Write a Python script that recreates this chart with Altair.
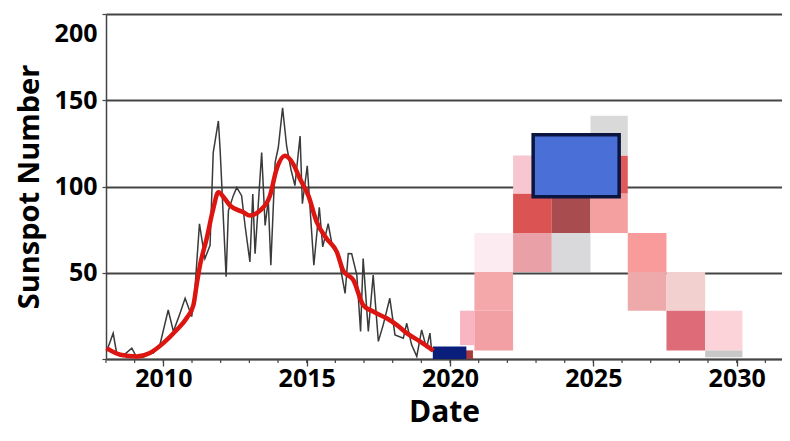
import altair as alt
import pandas as pd

# Monthly sunspot number (thin black line)
black_year = [2008.02, 2008.25, 2008.37, 2008.6, 2008.9, 2009.07, 2009.3, 2009.5, 2009.65, 2009.88,
              2010.17, 2010.35, 2010.55, 2010.76, 2010.99, 2011.1, 2011.26, 2011.45, 2011.63, 2011.74,
              2011.92, 2011.98, 2012.19, 2012.27, 2012.44, 2012.56, 2012.73, 2012.85, 2013.02, 2013.12,
              2013.2, 2013.43, 2013.55, 2013.66, 2013.75, 2013.9, 2014.01, 2014.16, 2014.3, 2014.45,
              2014.59, 2014.77, 2014.85, 2015.02, 2015.25, 2015.44, 2015.56, 2015.75, 2015.9, 2016.1,
              2016.34, 2016.45, 2016.57, 2016.75, 2016.88, 2016.97, 2017.15, 2017.32, 2017.5, 2017.67,
              2017.9, 2018.08, 2018.37, 2018.49, 2018.66, 2018.84, 2019.01, 2019.18, 2019.3, 2019.36]
black_value = [4.4, 15, 3.5, 2, 6.3, 1, 1, 3, 3.5, 8.2,
               28.4, 16, 25, 35.2, 24.6, 40, 78.4, 58.2, 65.9, 119.7,
               138, 121.6, 47.7, 86, 94.7, 99.5, 94.7, 77.4, 56.3, 95.7,
               61.1, 119.7, 77.4, 92, 54.4, 114, 122.6, 145.6, 123.5, 110,
               100.5, 129.3, 90, 112, 54.4, 88, 65, 78.4, 65, 60,
               38, 61.1, 61, 48.6, 16, 58.2, 16, 48.6, 10.2, 19.8,
               35.2, 14, 12, 20.7, 8.2, 1.5, 16.9, 6.3, 15, 4.4]

# Smoothed sunspot number (thick red line)
red_year = [2008.02, 2008.5, 2009.07, 2009.53, 2010.0, 2010.47, 2010.81, 2011.05, 2011.16, 2011.28,
            2011.51, 2011.74, 2011.92, 2012.15, 2012.33, 2012.79, 2013.02, 2013.37, 2013.72, 2013.95,
            2014.24, 2014.53, 2014.77, 2015.06, 2015.35, 2015.7, 2016.05, 2016.28, 2016.63, 2016.97,
            2017.32, 2017.79, 2018.14, 2018.49, 2018.95, 2019.42]
red_value = [6.3, 2.5, 1.5, 3.5, 9.2, 16.9, 23.6, 31.3, 42.8, 54.4,
             69.7, 87, 96.7, 92.8, 88.9, 85.1, 83.2, 86, 94.7, 110,
             117.8, 113, 104.3, 94.7, 79.4, 69.7, 62.1, 51, 45.7, 31.3,
             27.5, 23.6, 19.8, 15, 10.2, 4.8]

# Prediction cells (year range x sunspot range) and their shades
cell_x0 = [2020.35, 2020.85, 2020.85, 2020.85, 2022.2, 2023.55, 2026.2, 2022.2, 2023.55, 2024.9,
           2022.2, 2024.9, 2024.9, 2026.2, 2027.55, 2027.55, 2028.9, 2028.9, 2020.55]
cell_x1 = [2020.85, 2022.2, 2022.2, 2022.2, 2023.55, 2024.9, 2027.55, 2023.55, 2024.9, 2026.2,
           2023.55, 2026.2, 2026.2, 2027.55, 2028.9, 2028.9, 2030.2, 2030.2, 2020.8]
cell_y0 = [8, 5, 28, 50.5, 50.5, 50.5, 50.5, 73, 73, 73,
           96, 96, 118, 28, 28, 5, 5, 1, 0]
cell_y1 = [28, 28, 50.5, 73, 73, 73, 73, 96, 96, 96,
           118, 118, 141, 50.5, 50.5, 28, 28, 5, 5]
cell_color = ["#f7b6c2", "#f2a0a4", "#f5a8aa", "#fcebf1", "#e9a0a6", "#d9d9db", "#f99a9b",
              "#dc5354", "#a84c50", "#f5a0a0", "#f7c6cf", "#e05a5a", "#d9d9d9", "#eeaaaa",
              "#f2d0d0", "#dd6c78", "#fbd3d9", "#c8c8c8", "#a83a3a"]

# Predicted maximum box and observed minimum box
box_x0 = [2022.9]
box_x1 = [2025.9]
box_y0 = [94]
box_y1 = [130]
min_x0 = [2019.4]
min_x1 = [2020.57]
min_y0 = [0]
min_y1 = [7.3]

# Axis ticks
x_label_years = [2010, 2015, 2020, 2025, 2030]
x_minor_years = list(range(2008, 2032))
y_tick_values = [0, 50, 100, 150, 200]

FONT = "Open Sans"

black_df = pd.DataFrame({"year": black_year, "value": black_value})
red_df = pd.DataFrame({"year": red_year, "value": red_value})
cells_df = pd.DataFrame({"x0": cell_x0, "x1": cell_x1, "y0": cell_y0, "y1": cell_y1, "c": cell_color})
box_df = pd.DataFrame({"x0": box_x0, "x1": box_x1, "y0": box_y0, "y1": box_y1})
min_df = pd.DataFrame({"x0": min_x0, "x1": min_x1, "y0": min_y0, "y1": min_y1})
minor_df = pd.DataFrame({"year": x_minor_years})

PLOT_H = 345

xscale = alt.Scale(domain=[2008, 2031.58], nice=False, zero=False)
yscale = alt.Scale(domain=[0, 200], nice=False)

xaxis = alt.Axis(
    title="Date",
    values=x_label_years,
    format="d",
    labelOverlap=False,
    tickSize=7,
    labelPadding=0,
    labelFont=FONT, labelFontSize=25, labelFontWeight="bold", labelColor="#000000",
    titleFont=FONT, titleFontSize=30, titleFontWeight="bold", titleColor="#000000",
    titlePadding=6,
    domainColor="#444444", domainWidth=1.5, tickColor="#444444", tickWidth=1.3,
    grid=False,
)
yaxis = alt.Axis(
    title="Sunspot Number",
    values=y_tick_values,
    labelExpr="datum.value == 0 ? '' : datum.label",
    labelOverlap=False,
    labelOffset={"condition": {"test": "datum.value == 200", "value": 19}, "value": 0},
    tickSize=4, labelPadding=5,
    labelFont=FONT, labelFontSize=25, labelFontWeight="bold", labelColor="#000000",
    titleFont=FONT, titleFontSize=29, titleFontWeight="bold", titleColor="#000000",
    titlePadding=10,
    domainColor="#444444", domainWidth=1.5, tickColor="#444444", tickWidth=1.2,
    grid=True, gridColor="#444444", gridWidth=1.8,
)

cells = alt.Chart(cells_df).mark_rect(opacity=1).encode(
    x=alt.X("x0:Q", scale=xscale, axis=xaxis),
    x2="x1:Q",
    y=alt.Y("y0:Q", scale=yscale, axis=yaxis),
    y2="y1:Q",
    color=alt.Color("c:N", scale=None),
)

minor = alt.Chart(minor_df).mark_rule(color="#444444", strokeWidth=1.2).encode(
    x=alt.X("year:Q", scale=xscale),
    y=alt.value(PLOT_H),
    y2=alt.value(PLOT_H + 4),
)

box = alt.Chart(box_df).mark_rect(color="#4a70d8", stroke="#0b1640", strokeWidth=3.5).encode(
    x=alt.X("x0:Q", scale=xscale), x2="x1:Q",
    y=alt.Y("y0:Q", scale=yscale), y2="y1:Q",
)

minbox = alt.Chart(min_df).mark_rect(color="#0a1f7b").encode(
    x=alt.X("x0:Q", scale=xscale), x2="x1:Q",
    y=alt.Y("y0:Q", scale=yscale), y2="y1:Q",
)

black = alt.Chart(black_df).mark_line(color="#3a3a3a", strokeWidth=1.5).encode(
    x=alt.X("year:Q", scale=xscale), y=alt.Y("value:Q", scale=yscale),
)

red = alt.Chart(red_df).mark_line(color="#dd1510", strokeWidth=4.5, interpolate="monotone").encode(
    x=alt.X("year:Q", scale=xscale), y=alt.Y("value:Q", scale=yscale),
)

chart = alt.layer(cells, minor, box, minbox, black, red).properties(
    width=676, height=PLOT_H,
    autosize=alt.AutoSizeParams(type="none"),
    padding={"left": 98, "top": 6, "right": 0, "bottom": 74},
    background="#ffffff",
).configure_view(strokeWidth=0)

chart.save("out.html", embed_options={"renderer": "svg", "actions": False})
